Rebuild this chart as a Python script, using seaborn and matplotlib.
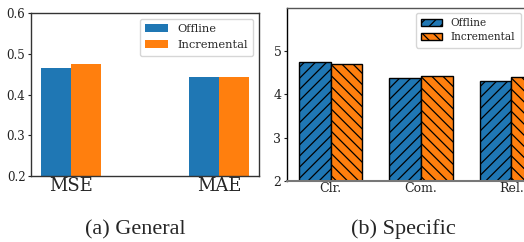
import matplotlib
matplotlib.use("Agg")
import matplotlib.pyplot as plt
import seaborn as sns
import pandas as pd

# ---- data ----
general_metrics = ["MSE", "MAE"]
general_offline = [0.464, 0.444]
general_incremental = [0.476, 0.442]

specific_metrics = ["Clr.", "Com.", "Rel."]
specific_offline = [4.74, 4.37, 4.31]
specific_incremental = [4.69, 4.42, 4.39]

series = ["Offline", "Incremental"]
captions = ["(a) General", "(b) Specific"]

colors = ["#1f77b4", "#ff7f0e"]

sns.set_style("white")
plt.rcParams["font.family"] = ["DejaVu Serif"]
plt.rcParams["hatch.linewidth"] = 0.9

df_g = pd.DataFrame({
    "metric": general_metrics * 2,
    "value": general_offline + general_incremental,
    "series": [series[0]] * len(general_metrics) + [series[1]] * len(general_metrics),
})
df_s = pd.DataFrame({
    "metric": specific_metrics * 2,
    "value": specific_offline + specific_incremental,
    "series": [series[0]] * len(specific_metrics) + [series[1]] * len(specific_metrics),
})

W, H = 524, 242
fig = plt.figure(figsize=(W / 100, H / 100), dpi=100)

# ---------- left panel ----------
ax1 = fig.add_axes([31 / W, 1 - 176 / H, 228 / W, 163 / H])
sns.barplot(data=df_g, x="metric", y="value", hue="series", palette=colors,
            width=0.4, ax=ax1, legend=False, saturation=1, linewidth=0)
ax1.set_ylim(0.2, 0.6)
ax1.set_yticks([0.2, 0.3, 0.4, 0.5, 0.6])
ax1.set_xlim(-0.27, 1.27)
ax1.set_xlabel("")
ax1.set_ylabel("")
ax1.tick_params(axis="y", labelsize=8.5, length=2.5, width=0.8, pad=1.5, left=True, colors="#222222")
ax1.tick_params(axis="x", labelsize=13, length=0, pad=1)
for s in ax1.spines.values():
    s.set_visible(True)
    s.set_color("#333333")
    s.set_linewidth(1.0)
ax1.legend(ax1.containers, series, loc="upper right", fontsize=8.2,
           frameon=True, framealpha=0.8, edgecolor="#cccccc", fancybox=True,
           handlelength=2.0, borderpad=0.5, labelspacing=0.5)

# ---------- right panel ----------
ax2 = fig.add_axes([287 / W, 1 - 181 / H, 268 / W, 173.5 / H])
sns.barplot(data=df_s, x="metric", y="value", hue="series", palette=colors,
            width=0.7, ax=ax2, legend=False, saturation=1)
hatches = ["///", "\\\\\\"]
for cont, h in zip(ax2.containers, hatches):
    for p in cont:
        p.set_hatch(h)
        p.set_edgecolor("black")
        p.set_linewidth(1.0)
ax2.set_ylim(2, 6)
ax2.set_yticks([2, 3, 4, 5])
ax2.set_xlim(-0.485, 2.485)
ax2.set_xlabel("")
ax2.set_ylabel("")
ax2.tick_params(axis="y", labelsize=9, length=2.5, width=0.8, pad=1.5, left=True, colors="#222222")
ax2.tick_params(axis="x", labelsize=9, length=0, pad=1)
ax2.spines["left"].set_color("black")
ax2.spines["top"].set_color("#555555")
ax2.spines["bottom"].set_color("#777777")
ax2.spines["bottom"].set_linewidth(1.5)
ax2.spines["right"].set_visible(False)
for k in ["left", "top"]:
    ax2.spines[k].set_linewidth(1.0)
ax2.legend(ax2.containers, series, loc="upper right",
           bbox_to_anchor=((526 - 287) / 268, 1.0), fontsize=7.6,
           frameon=True, framealpha=0.8, edgecolor="#cccccc", fancybox=True,
           handlelength=2.0, borderpad=0.5, labelspacing=0.4)

# ---------- captions ----------
fig.text(135 / W, 1 - 234 / H, captions[0], ha="center", va="baseline",
         fontsize=16, family=["Liberation Serif"])
fig.text(403 / W, 1 - 234 / H, captions[1], ha="center", va="baseline",
         fontsize=16, family=["Liberation Serif"])

fig.savefig("out.png", dpi=100)
